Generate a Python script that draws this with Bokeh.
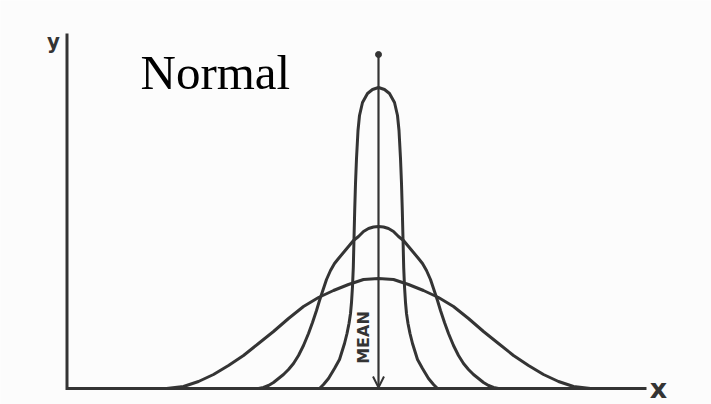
import math

from bokeh.core.properties import value
from bokeh.embed import file_html
from bokeh.models import Arrow, OpenHead, Range1d
from bokeh.plotting import figure
from bokeh.resources import INLINE

# Half-profiles of the three bell curves, measured outward from the mean.
# offset: distance from the mean (x units), height: curve height (y units)
narrow_offset = [0.0, 0.6, 1.1, 1.6, 1.9, 2.05, 2.2, 2.3, 2.38, 2.45, 2.52,
                 2.6, 2.7, 2.8, 2.95, 3.15, 3.4, 3.9, 4.4, 5.0, 5.5, 5.9]
narrow_height = [3.01, 2.99, 2.95, 2.86, 2.73, 2.58, 2.30, 2.05, 1.78, 1.50,
                 1.21, 1.02, 0.86, 0.75, 0.65, 0.55, 0.45, 0.29, 0.20, 0.10,
                 0.04, 0.0]

middle_offset = [0.0, 0.5, 1.0, 1.5, 2.0, 2.5, 3.0, 3.5, 4.0, 4.4, 4.8,
                 5.2, 5.5, 5.9, 6.2, 6.6, 7.0, 7.5, 8.0, 8.5, 9.0, 9.5,
                 10.0, 10.5, 11.0, 11.5, 12.0]
middle_height = [1.62, 1.615, 1.60, 1.57, 1.52, 1.48, 1.42, 1.36, 1.30,
                 1.25, 1.18, 1.09, 1.00, 0.88, 0.78, 0.66, 0.55, 0.43, 0.33,
                 0.25, 0.19, 0.14, 0.10, 0.06, 0.03, 0.01, 0.0]

wide_offset = [0.0, 1.5, 3.0, 4.5, 6.0, 7.5, 9.0, 10.5, 12.0, 13.5, 15.0,
               16.5, 18.0, 19.5, 21.2]
wide_height = [1.10, 1.09, 1.04, 0.98, 0.91, 0.82, 0.70, 0.57, 0.45, 0.33,
               0.23, 0.14, 0.07, 0.02, 0.0]

MEAN = 0.0
MEAN_TOP = 3.34

INK = "#343434"


def bell(offsets, heights):
    """Mirror a half-profile about the mean into a full curve."""
    xs = [MEAN - o for o in reversed(offsets)] + [MEAN + o for o in offsets[1:]]
    ys = list(reversed(heights)) + list(heights[1:])
    return xs, ys


p = figure(width=711, height=404,
           x_range=Range1d(-37.8, 33.3), y_range=Range1d(-0.16, 3.88),
           x_axis_type=None, y_axis_type=None,
           output_backend="svg", toolbar_location=None, min_border=0)
p.grid.visible = False
p.outline_line_color = None
p.background_fill_color = "#fcfcfc"
p.border_fill_color = "#fcfcfc"

# hand-drawn style L-shaped axes
AX_LEFT, AX_TOP, AX_RIGHT = -31.15, 3.55, 26.8
p.line([AX_LEFT, AX_LEFT, AX_RIGHT], [AX_TOP, 0.0, 0.0],
       line_width=3, line_color=INK, line_join="miter")

p.text(x=[AX_LEFT - 1.35], y=[3.475], text=["y"],
       text_font=value("DejaVu Sans Condensed"), text_font_style="bold",
       text_font_size="22px", text_color=INK,
       text_align="center", text_baseline="alphabetic")
p.text(x=[AX_RIGHT + 1.2], y=[0.005], text=["x"],
       text_font=value("DejaVu Sans"), text_font_style="bold",
       text_font_size="27px", text_color=INK,
       text_align="center", text_baseline="alphabetic")

# the three curves sharing one mean
for offs, hts in ((wide_offset, wide_height),
                  (middle_offset, middle_height),
                  (narrow_offset, narrow_height)):
    xs, ys = bell(offs, hts)
    p.line(xs, ys, line_width=3, line_color=INK,
           line_join="round", line_cap="round")

# mean marker: arrow from the top down to the x axis
p.add_layout(Arrow(end=OpenHead(size=11, line_width=2, line_color=INK),
                   x_start=MEAN, y_start=MEAN_TOP, x_end=MEAN, y_end=0.01,
                   line_width=2.2, line_color=INK))
p.scatter([MEAN], [MEAN_TOP], size=6, color=INK)

p.text(x=[MEAN - 1.5], y=[0.51], text=["MEAN"], angle=math.pi / 2,
       text_font=value("DejaVu Sans"), text_font_style="bold",
       text_font_size="16px", text_color=INK,
       text_align="center", text_baseline="middle")

p.text(x=[-23.8], y=[3.16], text=["Normal"],
       text_font=value("Liberation Serif"), text_font_size="49px",
       text_color="black", text_align="left", text_baseline="alphabetic")

open("out.html", "w").write(file_html(p, INLINE))
